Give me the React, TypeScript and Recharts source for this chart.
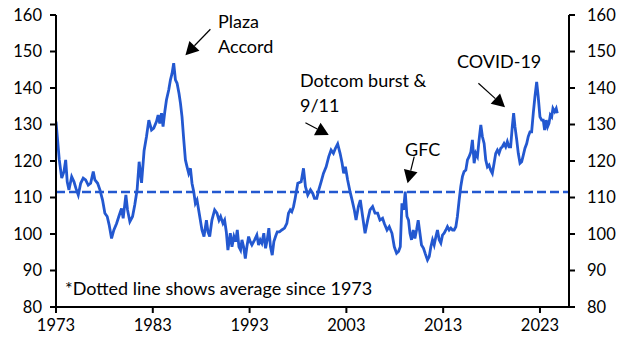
import { LineChart, Line, XAxis, YAxis, ReferenceLine } from "recharts"

// decimal years, with index levels
const years = [
  1973.0, 1973.34, 1973.59, 1973.82, 1974.0, 1974.16, 1974.34, 1974.62, 1974.86, 1975.06,
  1975.3, 1975.55, 1975.81, 1976.06, 1976.33, 1976.58, 1976.85, 1977.02, 1977.3, 1977.54,
  1977.81, 1978.05, 1978.29, 1978.49, 1978.74, 1978.98, 1979.26, 1979.49, 1979.77, 1979.94,
  1980.22, 1980.39, 1980.63, 1980.91, 1981.14, 1981.38, 1981.59, 1981.84, 1982.1, 1982.35,
  1982.59, 1982.87, 1983.1, 1983.38, 1983.55, 1983.72, 1983.9, 1984.06, 1984.24, 1984.41,
  1984.65, 1984.82, 1984.99, 1985.16, 1985.34, 1985.51, 1985.71, 1985.86, 1986.02, 1986.2,
  1986.37, 1986.54, 1986.71, 1986.89, 1987.05, 1987.23, 1987.4, 1987.57, 1987.85, 1988.08,
  1988.29, 1988.54, 1988.7, 1988.88, 1989.11, 1989.39, 1989.63, 1989.84, 1990.01, 1990.25,
  1990.42, 1990.6, 1990.76, 1991.01, 1991.18, 1991.38, 1991.56, 1991.73, 1991.9, 1992.07,
  1992.21, 1992.38, 1992.56, 1992.72, 1992.9, 1993.07, 1993.24, 1993.52, 1993.75, 1993.93,
  1994.1, 1994.27, 1994.47, 1994.65, 1994.82, 1994.99, 1995.16, 1995.34, 1995.51, 1995.68,
  1995.86, 1996.09, 1996.33, 1996.61, 1996.85, 1997.02, 1997.2, 1997.36, 1997.54, 1997.71,
  1997.98, 1998.33, 1998.57, 1998.77, 1999.01, 1999.29, 1999.53, 1999.7, 1999.94, 2000.15,
  2000.39, 2000.63, 2000.91, 2001.18, 2001.42, 2001.66, 2001.87, 2002.1, 2002.35, 2002.56,
  2002.72, 2002.9, 2003.13, 2003.38, 2003.59, 2003.82, 2004.0, 2004.24, 2004.44, 2004.68,
  2004.93, 2005.2, 2005.44, 2005.71, 2005.96, 2006.23, 2006.47, 2006.74, 2006.92, 2007.2,
  2007.43, 2007.71, 2007.95, 2008.19, 2008.39, 2008.57, 2008.74, 2008.91, 2009.08, 2009.26,
  2009.42, 2009.57, 2009.73, 2009.91, 2010.08, 2010.25, 2010.42, 2010.6, 2010.76, 2010.97,
  2011.14, 2011.38, 2011.56, 2011.73, 2011.9, 2012.07, 2012.25, 2012.41, 2012.59, 2012.76,
  2012.93, 2013.1, 2013.28, 2013.44, 2013.62, 2013.79, 2013.96, 2014.13, 2014.31, 2014.47,
  2014.65, 2014.82, 2014.99, 2015.16, 2015.34, 2015.51, 2015.68, 2015.86, 2016.02, 2016.2,
  2016.37, 2016.54, 2016.71, 2016.89, 2017.05, 2017.23, 2017.4, 2017.57, 2017.74, 2017.91,
  2018.08, 2018.26, 2018.43, 2018.6, 2018.77, 2018.95, 2019.11, 2019.29, 2019.46, 2019.63,
  2019.8, 2019.97, 2020.14, 2020.28, 2020.42, 2020.6, 2020.76, 2020.94, 2021.11, 2021.28,
  2021.45, 2021.63, 2021.79, 2021.97, 2022.14, 2022.31, 2022.48, 2022.66, 2022.82, 2023.0,
  2023.18, 2023.34, 2023.48, 2023.65, 2023.79, 2023.93, 2024.07, 2024.21, 2024.34, 2024.52,
  2024.68, 2024.79,
]

const dollarIndex = [
  130.8, 120.3, 115.3, 117.1, 120.3, 114.3, 112.1, 115.7, 114.3, 112.5,
  110.7, 113.9, 115.3, 114.8, 113.4, 113.9, 117.1, 114.8, 113.9, 112.1,
  109.3, 105.7, 104.8, 102.5, 98.8, 101.1, 102.9, 104.8, 107.0, 104.3,
  110.7, 106.6, 103.4, 104.8, 108.0, 112.1, 119.8, 114.0, 122.8, 126.7,
  131.2, 128.5, 129.0, 130.8, 132.6, 130.3, 133.1, 129.4, 133.5, 136.7,
  139.5, 142.2, 144.0, 146.8, 142.2, 141.3, 138.5, 135.8, 132.1, 125.8,
  120.3, 118.4, 116.6, 118.0, 113.9, 111.6, 108.4, 109.3, 104.8, 101.1,
  99.3, 103.8, 100.6, 99.3, 103.8, 106.6, 105.7, 103.8, 104.8, 102.9,
  103.8, 100.5, 95.6, 100.2, 96.5, 99.3, 97.9, 101.1, 96.5, 95.6,
  98.4, 96.5, 93.3, 96.5, 99.3, 97.9, 97.0, 98.4, 99.7, 97.0,
  98.4, 97.5, 100.2, 96.1, 98.4, 101.6, 96.5, 94.2, 97.9, 99.3,
  100.6, 100.6, 101.1, 101.6, 102.9, 105.7, 106.6, 106.1, 107.5, 109.8,
  113.9, 114.3, 118.0, 113.0, 110.7, 112.1, 111.1, 109.8, 109.8, 112.1,
  114.3, 116.6, 118.4, 121.2, 123.0, 122.1, 123.5, 124.7, 122.1, 119.4,
  116.6, 118.4, 114.8, 111.6, 109.3, 106.6, 103.8, 107.5, 109.3, 104.8,
  100.2, 103.8, 106.6, 107.5, 105.7, 105.7, 103.8, 104.3, 102.9, 101.1,
  102.0, 100.2, 96.5, 94.7, 95.2, 96.5, 108.4, 106.6, 111.6, 104.8,
  103.8, 100.2, 98.4, 101.1, 98.8, 101.1, 103.8, 100.2, 97.0, 96.1,
  94.7, 92.9, 93.8, 96.5, 98.4, 97.0, 99.3, 101.1, 98.4, 97.5,
  99.7, 100.2, 101.1, 102.0, 101.1, 101.6, 101.1, 101.1, 102.0, 104.8,
  109.3, 113.0, 115.7, 117.1, 117.5, 120.3, 121.2, 122.5, 125.8, 119.4,
  122.1, 121.2, 125.8, 129.9, 126.7, 124.8, 120.3, 118.4, 118.9, 117.5,
  116.6, 119.4, 122.1, 123.0, 122.1, 123.5, 123.9, 124.8, 123.9, 125.3,
  123.9, 123.9, 129.4, 133.1, 129.4, 125.8, 122.1, 119.4, 119.8, 121.6,
  123.5, 124.8, 126.7, 128.0, 128.0, 133.1, 137.6, 141.7, 137.6, 132.1,
  131.2, 131.2, 128.5, 131.2, 129.4, 130.3, 132.6, 132.1, 134.4, 133.5,
  134.4, 133.1,
]

const AVERAGE = 111.5
const yTicks = [80, 90, 100, 110, 120, 130, 140, 150, 160]
const xTicks = [1973, 1983, 1993, 2003, 2013, 2023]

const BLUE = "#2358d0"
const FONT = "Lato, 'Open Sans', sans-serif"

const rows = years.map((year, i) => ({ year, value: dollarIndex[i] }))

function Arrow(p: any) {
  const { x1, y1, x2, y2 } = p
  const dx = x2 - x1
  const dy = y2 - y1
  const len = Math.hypot(dx, dy) || 1
  const ux = dx / len
  const uy = dy / len
  const hl = 13
  const hw = 7
  const bx = x2 - ux * hl
  const by = y2 - uy * hl
  return (
    <g>
      <line x1={x1} y1={y1} x2={bx} y2={by} stroke="#000" strokeWidth={1.2} />
      <polygon
        points={`${x2},${y2} ${bx - uy * hw},${by + ux * hw} ${bx + uy * hw},${by - ux * hw}`}
        fill="#000"
      />
    </g>
  )
}

const tickStyle = { fill: "#000", fontSize: 16.5, fontFamily: FONT }

export default function App() {
  return (
    <div style={{ position: "absolute", left: 0, top: 0, width: 628, height: 353, background: "#fff" }}>
      <LineChart width={628} height={353} data={rows} margin={{ top: 15, right: 0, bottom: 0, left: 0 }}>
        <XAxis
          dataKey="year"
          type="number"
          domain={[1973, 2026]}
          ticks={xTicks}
          allowDataOverflow
          height={46}
          tick={tickStyle}
          tickSize={6}
          tickMargin={6}
          stroke="#000"
          strokeWidth={2}
          tickLine={{ stroke: "#000", strokeWidth: 2 }}
        />
        <YAxis
          yAxisId="left"
          domain={[80, 160]}
          ticks={yTicks}
          width={56}
          tick={tickStyle}
          tickSize={6}
          tickMargin={8}
          stroke="#000"
          strokeWidth={2}
          tickLine={{ stroke: "#000", strokeWidth: 2 }}
        />
        <YAxis
          yAxisId="right"
          orientation="right"
          domain={[80, 160]}
          ticks={yTicks}
          width={59}
          tick={{ ...tickStyle, textAnchor: "start" }}
          tickSize={6}
          tickMargin={12}
          stroke="#000"
          strokeWidth={2}
          tickLine={{ stroke: "#000", strokeWidth: 2 }}
        />
        <ReferenceLine
          yAxisId="left"
          y={AVERAGE}
          stroke={BLUE}
          strokeWidth={2.5}
          strokeDasharray="9 4"
        />
        {/* invisible copy so the right-hand axis gets drawn */}
        <Line
          yAxisId="right"
          dataKey="value"
          stroke="transparent"
          strokeWidth={0}
          dot={false}
          activeDot={false}
          isAnimationActive={false}
        />
        <Line
          yAxisId="left"
          dataKey="value"
          stroke={BLUE}
          strokeWidth={2.8}
          dot={false}
          type="linear"
          isAnimationActive={false}
        />
        <ReferenceLine yAxisId="left" segment={[{ x: 1988.95, y: 156.1 }, { x: 1986.37, y: 149.0 }]} shape={Arrow} />
        <ReferenceLine yAxisId="left" segment={[{ x: 1998.77, y: 130.5 }, { x: 2001.18, y: 127.1 }]} shape={Arrow} />
        <ReferenceLine yAxisId="left" segment={[{ x: 2010.01, y: 121.2 }, { x: 2009.32, y: 113.9 }]} shape={Arrow} />
        <ReferenceLine yAxisId="left" segment={[{ x: 2016.64, y: 141.3 }, { x: 2019.39, y: 134.7 }]} shape={Arrow} />
      </LineChart>
      <svg
        width={628}
        height={353}
        style={{ position: "absolute", left: 0, top: 0, pointerEvents: "none" }}
        fontFamily={FONT}
        fontSize={18}
        fill="#000"
      >
        <text x={218} y={28}>Plaza</text>
        <text x={218} y={52.5}>Accord</text>
        <text x={300} y={87}>Dotcom burst &amp;</text>
        <text x={300} y={111.5}>9/11</text>
        <text x={405} y={156}>GFC</text>
        <text x={457} y={68}>COVID-19</text>
        <text x={65} y={295}>*Dotted line shows average since 1973</text>
      </svg>
    </div>
  )
}
